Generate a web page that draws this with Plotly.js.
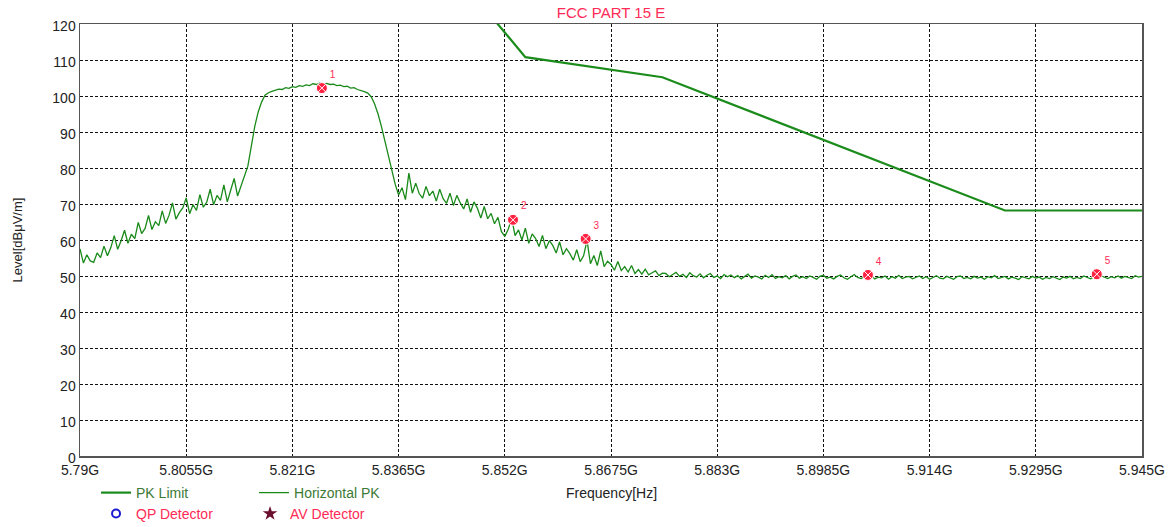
<!DOCTYPE html>
<html>
<head>
<meta charset="utf-8">
<script src="https://cdn.plot.ly/plotly-3.0.1.min.js"></script>
<style>html,body{margin:0;padding:0;background:#fff;}#chart{width:1175px;height:527px;}</style>
</head>
<body>
<div id="chart"></div>
<script>
// ---- DATA ----
// Sweep frequencies (MHz)
const sweepFreqMHz = [
5790,5790.5,5791,5791.5,5792,5792.5,5793,5793.5,5794,5794.5,
5795,5795.5,5796,5796.5,5797,5797.5,5798,5798.5,5799,5799.5,
5800,5800.5,5801,5801.5,5802,5802.5,5803,5803.5,5804,5804.5,
5805,5805.5,5806,5806.5,5807,5807.5,5808,5808.5,5809,5809.5,
5810,5810.5,5811,5811.5,5812,5812.5,5813,5813.5,5814,5814.5,
5815,5815.5,5816,5816.5,5817,5817.5,5818,5818.5,5819,5819.5,
5820,5820.5,5821,5821.5,5822,5822.5,5823,5823.5,5824,5824.5,
5825,5825.5,5826,5826.5,5827,5827.5,5828,5828.5,5829,5829.5,
5830,5830.5,5831,5831.5,5832,5832.5,5833,5833.5,5834,5834.5,
5835,5835.5,5836,5836.5,5837,5837.5,5838,5838.5,5839,5839.5,
5840,5840.5,5841,5841.5,5842,5842.5,5843,5843.5,5844,5844.5,
5845,5845.5,5846,5846.5,5847,5847.5,5848,5848.5,5849,5849.5,
5850,5850.5,5851,5851.5,5852,5852.5,5853,5853.5,5854,5854.5,
5855,5855.5,5856,5856.5,5857,5857.5,5858,5858.5,5859,5859.5,
5860,5860.5,5861,5861.5,5862,5862.5,5863,5863.5,5864,5864.5,
5865,5865.5,5866,5866.5,5867,5867.5,5868,5868.5,5869,5869.5,
5870,5870.5,5871,5871.5,5872,5872.5,5873,5873.5,5874,5874.5,
5875,5875.5,5876,5876.5,5877,5877.5,5878,5878.5,5879,5879.5,
5880,5880.5,5881,5881.5,5882,5882.5,5883,5883.5,5884,5884.5,
5885,5885.5,5886,5886.5,5887,5887.5,5888,5888.5,5889,5889.5,
5890,5890.5,5891,5891.5,5892,5892.5,5893,5893.5,5894,5894.5,
5895,5895.5,5896,5896.5,5897,5897.5,5898,5898.5,5899,5899.5,
5900,5900.5,5901,5901.5,5902,5902.5,5903,5903.5,5904,5904.5,
5905,5905.5,5906,5906.5,5907,5907.5,5908,5908.5,5909,5909.5,
5910,5910.5,5911,5911.5,5912,5912.5,5913,5913.5,5914,5914.5,
5915,5915.5,5916,5916.5,5917,5917.5,5918,5918.5,5919,5919.5,
5920,5920.5,5921,5921.5,5922,5922.5,5923,5923.5,5924,5924.5,
5925,5925.5,5926,5926.5,5927,5927.5,5928,5928.5,5929,5929.5,
5930,5930.5,5931,5931.5,5932,5932.5,5933,5933.5,5934,5934.5,
5935,5935.5,5936,5936.5,5937,5937.5,5938,5938.5,5939,5939.5,
5940,5940.5,5941,5941.5,5942,5942.5,5943,5943.5,5944,5944.5,
5945];

// Horizontal PK level (dBuV/m)
const horizontalPK = [
// 5790.0 - 5814.0
57.5,53.6,55.9,54.2,53.8,56.4,55.1,58.3,55.6,57.9,
61.2,57.4,59.8,62.7,59.1,61.6,60.4,64.9,61.8,63.2,
66.8,62.9,65.1,64.0,68.1,64.6,66.9,70.3,65.8,67.6,
68.9,71.7,67.3,69.8,68.2,72.6,69.1,70.5,74.1,69.8,
72.4,71.0,75.3,70.6,73.9,77.1,72.2,74.8,78.0,
// 5814.5 - 5817.5
80.5,86,91.5,95.5,98.3,100.2,100.9,
// 5818.0 - 5832.0
101.3,101.6,101.9,101.8,102.3,102.1,102.6,102.4,102.9,102.7,
103.1,102.9,103.4,103.2,103.6,103.3,103.5,103.2,103.3,102.9,
103.0,102.6,102.7,102.2,102.3,101.8,101.6,101.2,100.8,
// 5832.5 - 5836.5
99.8,97.8,95,91.5,87.5,83.5,79,75.5,72.5,
// 5837.0 - 5852.0
74.5,71.2,78.6,73.0,75.8,72.9,71.6,74.9,72.3,73.6,
70.8,74.1,71.5,70.2,73.0,69.6,72.4,70.3,68.6,71.4,
67.7,70.6,68.8,66.1,69.3,65.9,67.4,64.5,66.3,62.4,61.0,
// 5852.5 - 5875.0
63.0,66.0,61.2,62.8,60.0,63.3,59.1,61.7,60.4,58.2,
61.3,57.6,59.8,58.5,56.4,59.5,55.9,57.6,56.2,54.4,
57.3,54.0,55.6,59.9,53.4,55.7,52.9,57.0,52.6,54.1,
53.2,51.6,54.0,51.5,52.6,51.1,52.9,50.7,51.8,50.5,
51.9,50.3,50.9,51.4,50.1,50.8,
// 5875.5 - 5945.0
50.7,49.8,50.4,51.0,49.9,50.5,49.6,50.9,50.1,49.7,
50.6,49.5,50.2,50.7,49.6,50.0,49.3,50.4,49.8,50.3,
49.5,50.1,49.2,49.9,50.5,49.4,50.0,49.7,49.2,50.2,
49.6,50.4,49.3,49.8,49.5,50.1,49.2,49.9,50.3,49.4,
49.8,49.3,50.0,49.6,49.1,49.9,50.2,49.4,49.7,49.2,
49.9,50.3,49.5,49.1,49.8,50.4,49.6,49.3,49.9,49.4,
50.1,49.2,49.7,49.5,50.0,49.1,49.8,49.4,50.2,49.3,
49.7,49.9,49.2,49.6,50.0,49.3,49.8,49.1,49.6,50.1,
49.4,49.2,49.9,49.5,49.1,49.8,50.0,49.3,49.6,49.2,
49.9,49.4,49.7,49.1,49.8,49.5,50.1,49.3,49.6,49.9,
49.2,49.7,49.4,49.0,49.8,49.5,49.2,49.9,49.4,49.7,
49.1,49.6,49.3,49.8,49.5,49.0,49.7,49.4,49.9,49.2,
49.6,49.3,50.0,49.5,49.2,49.8,49.4,50.1,49.6,49.3,
49.8,49.5,50.0,49.4,49.9,49.6,49.3,50.1,49.7,49.9];

// PK limit line
const limitFreqMHz = [5850, 5855, 5875, 5925, 5945];
const limitLevel = [122.2, 110.8, 105.2, 68.2, 68.2];

// Marked peaks
const markerFreqMHz = [5825.3, 5853.2, 5863.8, 5905.0, 5938.4];
const markerLevel = [102.2, 65.6, 60.3, 50.3, 50.5];
const markerLabels = ['1', '2', '3', '4', '5'];

// Axis ticks
const xTickVals = [5790, 5805.5, 5821, 5836.5, 5852, 5867.5, 5883, 5898.5, 5914, 5929.5, 5945];
const xTickText = ['5.79G', '5.8055G', '5.821G', '5.8365G', '5.852G', '5.8675G', '5.883G', '5.8985G', '5.914G', '5.9295G', '5.945G'];

// ---- CHART ----
const FONT = '"Liberation Sans", Arial, sans-serif';
const GREEN = '#1a8a1a';

const traces = [
  {
    x: limitFreqMHz, y: limitLevel, type: 'scatter', mode: 'lines',
    name: 'PK Limit', line: {color: '#1b8c1b', width: 2.2}, legend: 'legend'
  },
  {
    x: sweepFreqMHz, y: horizontalPK, type: 'scatter', mode: 'lines',
    name: 'Horizontal PK', line: {color: GREEN, width: 1.3}, legend: 'legend'
  },
  {
    x: markerFreqMHz, y: markerLevel, type: 'scatter', mode: 'markers+text',
    text: markerLabels, textposition: 'top right',
    textfont: {family: FONT, size: 10, color: '#ff2a55'},
    marker: {symbol: 'circle-x', size: 11, color: '#ff2040', line: {color: '#ffffff', width: 1}},
    showlegend: false, hoverinfo: 'x+y'
  },
  {
    x: [null], y: [null], type: 'scatter', mode: 'markers', name: 'QP Detector',
    marker: {symbol: 'circle-open', size: 8, color: '#1c1cd0', line: {width: 2}}, legend: 'legend2'
  },
  {
    x: [null], y: [null], type: 'scatter', mode: 'markers', name: 'AV Detector',
    marker: {symbol: 'star', size: 11, color: '#6b0f2e'}, legend: 'legend2'
  }
];

const layout = {
  width: 1175, height: 527,
  margin: {l: 80, r: 33, t: 24, b: 71},
  paper_bgcolor: '#ffffff', plot_bgcolor: '#ffffff',
  font: {family: FONT, size: 14, color: '#222'},
  title: {
    text: 'FCC PART 15 E', font: {family: FONT, size: 15, color: '#ff2a55'},
    x: 0.5, xref: 'paper', y: 0.975, yref: 'container', yanchor: 'middle'
  },
  xaxis: {
    range: [5790, 5945], tickmode: 'array', tickvals: xTickVals, ticktext: xTickText,
    showgrid: true, gridcolor: '#111', griddash: '3px,2px', gridwidth: 1,
    showline: true, linecolor: '#555', linewidth: 1.5, mirror: true,
    zeroline: false, ticks: '', tickfont: {family: FONT, size: 14, color: '#222'},
    ticklabelstandoff: 1,
    automargin: false
  },
  yaxis: {
    range: [0, 120], dtick: 10, tick0: 0,
    showgrid: true, gridcolor: '#111', griddash: '3px,2px', gridwidth: 1,
    showline: true, linecolor: '#555', linewidth: 1.5, mirror: true,
    zeroline: false, ticks: '', tickfont: {family: FONT, size: 14, color: '#222'},
    ticklabelshift: 2,
    title: {text: 'Level[dBμV/m]', font: {family: FONT, size: 13, color: '#222'}, standoff: 27},
    automargin: false
  },
  annotations: [{
    text: 'Frequency[Hz]', xref: 'paper', yref: 'paper', x: 0.5, y: -0.0856,
    xanchor: 'center', yanchor: 'middle', showarrow: false,
    font: {family: FONT, size: 14, color: '#222'}
  }],
  legend: {
    orientation: 'h', x: 0.0151, xanchor: 'left', y: 0.0645, yref: 'container', yanchor: 'middle',
    font: {family: FONT, size: 14, color: '#3d7a35'}, bgcolor: 'rgba(0,0,0,0)',
    entrywidth: 113, itemclick: false
  },
  legend2: {
    orientation: 'h', x: 0.0151, xanchor: 'left', y: 0.0247, yref: 'container', yanchor: 'middle',
    font: {family: FONT, size: 14, color: '#ff2a55'}, bgcolor: 'rgba(0,0,0,0)',
    entrywidth: 109, itemclick: false
  },
  showlegend: true
};

Plotly.newPlot('chart', traces, layout, {displayModeBar: false, staticPlot: true});
</script>
</body>
</html>
